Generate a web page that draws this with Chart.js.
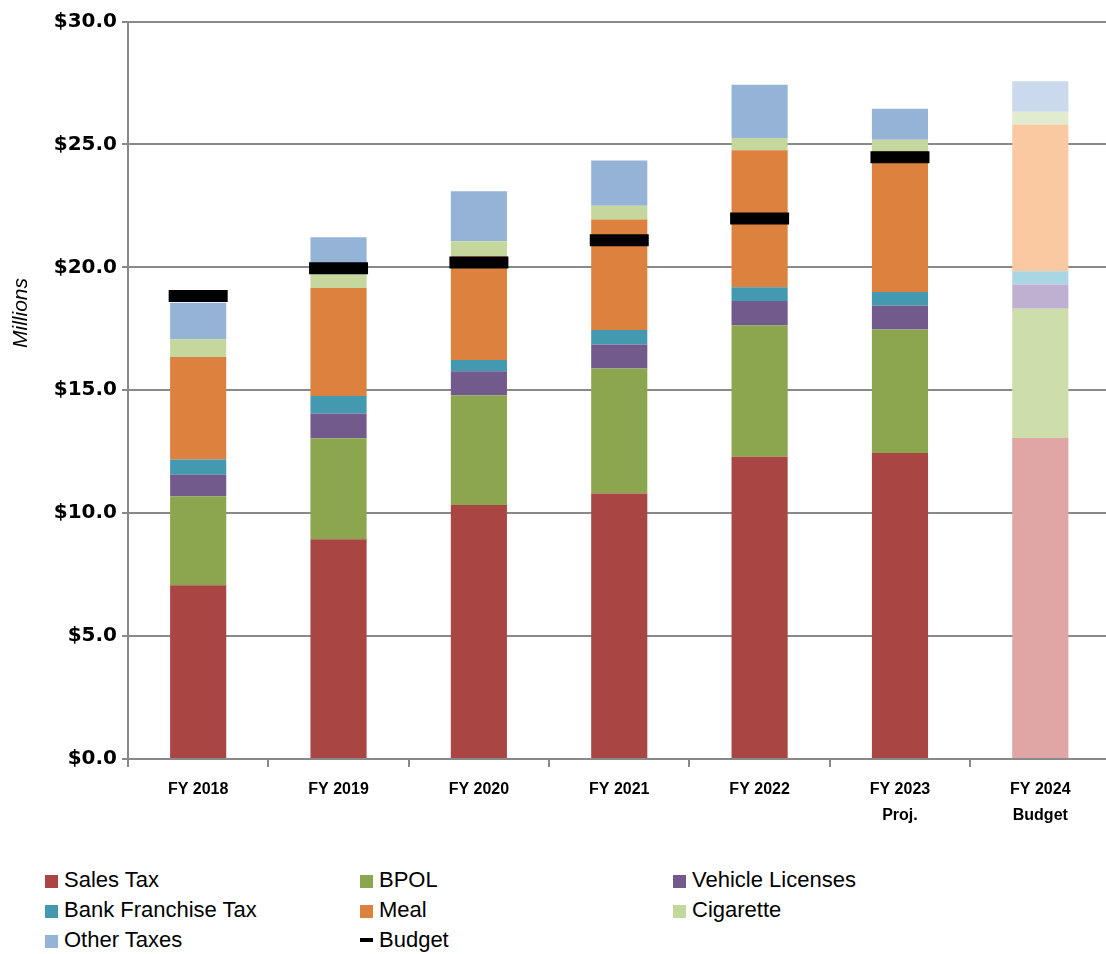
<!DOCTYPE html>
<html lang="en">
<head>
    <meta charset="UTF-8">
    <title>Tax Revenue</title>
    <script src="https://cdn.jsdelivr.net/npm/chart.js"></script>
    <style>
        body {
            margin: 0;
            background: #ffffff;
            overflow: hidden;
            width: 1106px;
            height: 954px;
            position: relative;
            font-family: "Liberation Sans Narrow", "Liberation Sans", Arial, sans-serif;
        }
        #wrap {
            position: absolute;
            left: 0;
            top: -20px;
            width: 1152px;
            height: 852px;
        }
        #yTitle {
            position: absolute;
            left: 20px;
            top: 313px;
            transform: translate(-50%, -50%) rotate(-90deg);
            font-style: italic;
            font-size: 21px;
            color: #000;
            white-space: nowrap;
        }
        .legend {
            position: absolute;
            left: 0;
            top: 866px;
            font-size: 22px;
            color: #000;
        }
        .item {
            position: absolute;
            white-space: nowrap;
            line-height: 28px;
        }
        .sw {
            display: inline-block;
            width: 13px;
            height: 13px;
            margin-right: 6px;
            vertical-align: -1px;
        }
        .dash {
            display: inline-block;
            width: 13px;
            height: 4px;
            background: #000;
            margin-right: 6px;
            vertical-align: 5px;
        }
    </style>
</head>
<body>
    <div id="wrap"><canvas id="revChart"></canvas></div>
    <div id="yTitle">Millions</div>
    <div class="legend" id="legend"></div>

    <script>
        // values in $ millions
        const years = [['FY 2018'], ['FY 2019'], ['FY 2020'], ['FY 2021'], ['FY 2022'], ['FY 2023', 'Proj.'], ['FY 2024', 'Budget']];
        const salesTax = [7.07, 8.94, 10.33, 10.80, 12.29, 12.45, 13.06];
        const bpol = [3.62, 4.11, 4.47, 5.08, 5.35, 5.02, 5.26];
        const vehicleLicenses = [0.87, 1.00, 0.97, 0.98, 0.99, 0.97, 0.98];
        const bankFranchise = [0.62, 0.72, 0.46, 0.59, 0.56, 0.56, 0.54];
        const meal = [4.17, 4.39, 4.22, 4.50, 5.57, 5.72, 5.97];
        const cigarette = [0.72, 0.60, 0.61, 0.56, 0.50, 0.47, 0.52];
        const otherTaxes = [1.49, 1.46, 2.03, 1.84, 2.17, 1.26, 1.24];
        const budget = [18.83, 19.96, 20.20, 21.10, 21.99, 24.48, null];
        const yTicks = [0, 5, 10, 15, 20, 25, 30];

        // last bar (budget year) is drawn in a washed-out tone
        function shade(solid, light) {
            return years.map((y, i) => i === years.length - 1 ? light : solid);
        }

        const series = [
            { label: 'Sales Tax', data: salesTax, color: '#A94643', light: '#DFA6A5' },
            { label: 'BPOL', data: bpol, color: '#8BA64E', light: '#CEDEAA' },
            { label: 'Vehicle Licenses', data: vehicleLicenses, color: '#735A8D', light: '#BFB0D1' },
            { label: 'Bank Franchise Tax', data: bankFranchise, color: '#4399B0', light: '#A8D6E2' },
            { label: 'Meal', data: meal, color: '#DC823E', light: '#FAC9A1' },
            { label: 'Cigarette', data: cigarette, color: '#C4D79C', light: '#E1EBCD' },
            { label: 'Other Taxes', data: otherTaxes, color: '#95B3D7', light: '#CAD9EC' }
        ];

        const datasets = series.map(s => ({
            type: 'bar',
            label: s.label,
            data: s.data,
            backgroundColor: shade(s.color, s.light),
            borderWidth: 0,
            stack: 'rev',
            categoryPercentage: 1.0,
            barPercentage: 0.4,
            order: 1
        }));

        datasets.push({
            type: 'line',
            label: 'Budget',
            data: budget,
            stack: 'budget',
            showLine: false,
            pointStyle: 'line',
            pointRadius: 29.5,
            pointBorderWidth: 12,
            pointBorderColor: '#000',
            pointBackgroundColor: '#000',
            order: 0
        });

        const gridGray = '#898989';

        new Chart(document.getElementById('revChart'), {
            type: 'bar',
            data: { labels: years, datasets: datasets },
            options: {
                responsive: true,
                maintainAspectRatio: false,
                animation: false,
                events: [],
                layout: { padding: { top: 21, right: 0, left: 0, bottom: 0 } },
                plugins: {
                    legend: { display: false },
                    tooltip: { enabled: false }
                },
                scales: {
                    x: {
                        stacked: true,
                        grid: {
                            offset: true,
                            drawOnChartArea: false,
                            drawTicks: true,
                            tickLength: 8,
                            color: gridGray,
                            lineWidth: 2
                        },
                        border: { color: gridGray, width: 2 },
                        ticks: {
                            color: '#000',
                            padding: 10,
                            maxRotation: 0,
                            font: { family: '"Liberation Sans Narrow", "Liberation Sans", Arial, sans-serif', size: 16, weight: 'bold', lineHeight: 1.6 }
                        },
                        afterFit: scale => { scale.height = 73; }
                    },
                    y: {
                        stacked: true,
                        min: 0,
                        max: 30,
                        afterBuildTicks: scale => { scale.ticks = yTicks.map(v => ({ value: v })); },
                        grid: {
                            color: gridGray,
                            lineWidth: 2,
                            tickLength: 6
                        },
                        border: { color: gridGray, width: 2 },
                        ticks: {
                            color: '#000',
                            padding: 5,
                            font: { family: '"DejaVu Sans", Verdana, sans-serif', size: 20, weight: 'bold' },
                            callback: v => '$' + Number(v).toFixed(1)
                        },
                        afterFit: scale => { scale.width = 128; }
                    }
                }
            }
        });

        // legend laid out in three columns like the original
        const legendCols = [45, 360, 673];
        const legendItems = series.map(s => ({ label: s.label, color: s.color })).concat([{ label: 'Budget', dash: true }]);
        const legendEl = document.getElementById('legend');
        legendItems.forEach((it, i) => {
            const div = document.createElement('div');
            div.className = 'item';
            div.style.left = legendCols[i % 3] + 'px';
            div.style.top = (Math.floor(i / 3) * 30) + 'px';
            const mark = document.createElement('span');
            if (it.dash) {
                mark.className = 'dash';
            } else {
                mark.className = 'sw';
                mark.style.background = it.color;
            }
            div.appendChild(mark);
            div.appendChild(document.createTextNode(it.label));
            legendEl.appendChild(div);
        });
    </script>
</body>
</html>
